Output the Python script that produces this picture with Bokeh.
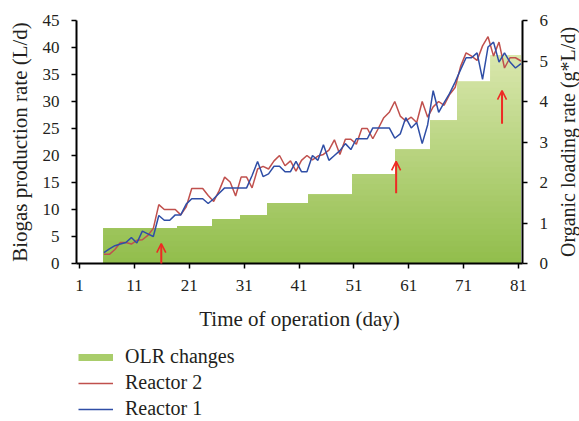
import numpy as np
from bokeh.plotting import figure
from bokeh.layouts import column, row
from bokeh.models import (Range1d, LinearAxis, FixedTicker, Legend, LegendItem,
                          Arrow, OpenHead, Label)
from bokeh.embed import file_html
from bokeh.resources import INLINE

# ---------------- data ----------------
reactor1 = [2.0, 2.7, 3.3, 3.6, 3.9, 4.8, 3.8, 6.0, 5.5, 5.0,
            8.9, 8.0, 8.0, 9.0, 9.0, 11.0, 12.0, 12.0, 12.0, 11.1,
            12.0, 13.0, 14.0, 14.0, 14.0, 14.0, 14.0, 16.3, 18.9, 16.1,
            16.6, 18.0, 18.0, 17.0, 17.0, 18.9, 17.0, 17.0, 20.0, 19.1,
            22.0, 19.1, 20.0, 20.9, 22.2, 21.1, 23.1, 23.1, 23.1, 25.1,
            25.1, 25.1, 25.1, 23.2, 24.0, 27.0, 25.1, 26.1, 22.2, 25.7,
            32.0, 28.0, 29.8, 31.5, 33.6, 35.9, 38.1, 38.1, 39.0, 34.1,
            40.1, 41.0, 37.3, 39.0, 37.3, 36.2, 37.0]
reactor2 = [1.7, 1.7, 2.6, 3.9, 3.9, 3.6, 4.3, 4.4, 5.2, 6.5,
            10.9, 10.0, 10.0, 10.0, 9.0, 10.5, 13.9, 13.9, 13.9, 12.6,
            11.5, 13.5, 16.0, 15.1, 12.5, 16.0, 16.0, 14.0, 17.5, 18.0,
            17.5, 19.0, 20.0, 18.1, 19.0, 17.1, 19.1, 20.0, 19.2, 19.9,
            20.2, 21.0, 22.9, 20.2, 23.0, 23.0, 22.1, 25.0, 25.0, 23.1,
            25.0, 27.0, 28.0, 30.0, 27.3, 26.4, 27.1, 26.1, 30.0, 27.1,
            29.0, 30.0, 29.3, 31.3, 32.6, 36.5, 39.0, 38.4, 37.6, 40.3,
            42.0, 38.4, 41.0, 36.2, 38.1, 38.1, 37.5]
first_day = 5.45
days = [first_day + i for i in range(len(reactor1))]

# OLR step changes (day boundaries and level of each step, g*L/d)
olr_edges = [5.4, 18.8, 25.2, 30.3, 35.2, 42.7, 50.7, 58.5, 64.9, 69.8, 75.9, 81.4]
olr_levels = [0.87, 0.92, 1.09, 1.19, 1.49, 1.70, 2.21, 2.81, 3.53, 4.49, 5.14]

x_ticks = [1, 11, 21, 31, 41, 51, 61, 71, 81]
biogas_ticks = [0, 5, 10, 15, 20, 25, 30, 35, 40, 45]
olr_ticks = [0, 1, 2, 3, 4, 5, 6]

# red arrows marking the OLR increases (day, arrow tip, arrow tail in L/d)
arrow_days = [15.9, 58.7, 78.0]
arrow_tips = [3.7, 18.9, 32.0]
arrow_tails = [-2.6, 13.0, 25.9]

legend_labels = ["OLR changes", "Reactor 2", "Reactor 1"]
right_title = "Organic loading rate (g*L/d)"

# ---------------- styling ----------------
FONT = "Liberation Serif"
TXT = "#231f20"
RED = "#c0504d"
BLUE = "#2f4ea6"
ARROW = "#ee2a24"
SWATCH = "#a9cd6b"

p = figure(width=555, height=340, output_backend="svg", toolbar_location=None,
           x_range=Range1d(0.45, 81.73), y_range=Range1d(0, 45),
           min_border_left=76, min_border_right=33, min_border_top=20,
           min_border_bottom=77, outline_line_color=None)
p.extra_y_ranges = {"olr": Range1d(0, 6)}
p.grid.visible = False

# ---- OLR area with a vertical gradient (drawn as nested bands) ----
step_x, step_y = [], []
for j, lev in enumerate(olr_levels):
    step_x += [olr_edges[j], olr_edges[j + 1]]
    step_y += [lev, lev]
step_x = np.array(step_x)
step_y = np.array(step_y)

c_lo = np.array([146, 190, 76])
c_hi = np.array([224, 235, 182])
N = 40
top = 5.6
for k in range(N - 1, -1, -1):
    hi = (k + 1) * top / N
    t = (k + 0.5) / N
    c = (c_lo + (c_hi - c_lo) * t).astype(int)
    col = "#%02x%02x%02x" % tuple(c)
    p.varea(x=step_x, y1=np.zeros_like(step_y), y2=np.minimum(step_y, hi),
            fill_color=col, y_range_name="olr")

# ---- reactor lines ----
p.line(days, reactor2, line_color=RED, line_width=1.5)
p.line(days, reactor1, line_color=BLUE, line_width=1.5)

# ---- arrows ----
for d, tip, tail in zip(arrow_days, arrow_tips, arrow_tails):
    p.add_layout(Arrow(end=OpenHead(size=9, line_color=ARROW, line_width=1.6),
                       x_start=d, y_start=tail, x_end=d, y_end=tip,
                       line_color=ARROW, line_width=2))

# ---- axes ----
def style_axis(ax):
    ax.axis_line_color = "black"
    ax.axis_line_width = 2
    ax.major_tick_line_color = "black"
    ax.major_tick_line_width = 1.5
    ax.major_tick_out = 5
    ax.major_tick_in = 0
    ax.minor_tick_out = 0
    ax.minor_tick_in = 0
    ax.major_label_text_font = FONT
    ax.major_label_text_font_size = "17px"
    ax.major_label_text_color = TXT
    ax.axis_label_text_font = FONT
    ax.axis_label_text_font_size = "21px"
    ax.axis_label_text_font_style = "normal"
    ax.axis_label_text_color = TXT

xa = p.xaxis[0]
style_axis(xa)
xa.ticker = FixedTicker(ticks=x_ticks)
xa.axis_label = "Time of operation (day)"
xa.major_label_standoff = 11
xa.axis_label_standoff = 13

ya = p.yaxis[0]
style_axis(ya)
ya.ticker = FixedTicker(ticks=biogas_ticks)
ya.axis_label = "Biogas production rate (L/d)"
ya.major_label_standoff = 12
ya.axis_label_standoff = 8

ra = LinearAxis(y_range_name="olr", ticker=FixedTicker(ticks=olr_ticks))
style_axis(ra)
ra.major_label_standoff = 12
p.add_layout(ra, "right")

# ---- right axis title (reads bottom to top) ----
tf = figure(width=24, height=340, output_backend="svg", toolbar_location=None,
            x_range=Range1d(0, 1), y_range=Range1d(0, 1),
            min_border_left=0, min_border_right=0, min_border_top=20,
            min_border_bottom=77, outline_line_color=None)
tf.axis.visible = False
tf.grid.visible = False
tf.add_layout(Label(x=0.5, y=0.5, text=right_title, angle=np.pi / 2,
                    text_align="center", text_baseline="middle",
                    text_font=FONT, text_font_size="20px", text_color=TXT))

# ---- legend panel below the chart ----
lg = figure(width=579, height=81, output_backend="svg", toolbar_location=None,
            x_range=Range1d(0, 1), y_range=Range1d(0, 1),
            min_border_left=76, min_border_right=0, min_border_top=0,
            min_border_bottom=0, outline_line_color=None)
lg.axis.visible = False
lg.grid.visible = False
sw_olr = lg.line([np.nan], [np.nan], line_color=SWATCH, line_width=7)
sw_r2 = lg.line([np.nan], [np.nan], line_color=RED, line_width=1.5)
sw_r1 = lg.line([np.nan], [np.nan], line_color=BLUE, line_width=1.5)
legend = Legend(items=[LegendItem(label=legend_labels[0], renderers=[sw_olr]),
                       LegendItem(label=legend_labels[1], renderers=[sw_r2]),
                       LegendItem(label=legend_labels[2], renderers=[sw_r1])],
                location=(2, 1), orientation="vertical",
                border_line_color=None, background_fill_alpha=0,
                padding=0, margin=0, spacing=3,
                glyph_width=35, glyph_height=20, label_height=23,
                label_standoff=12, label_text_font=FONT,
                label_text_font_size="20px", label_text_color=TXT)
lg.add_layout(legend, "center")

layout = column(row(p, tf, spacing=0), lg, spacing=0)
open("out.html", "w").write(file_html(layout, INLINE))
